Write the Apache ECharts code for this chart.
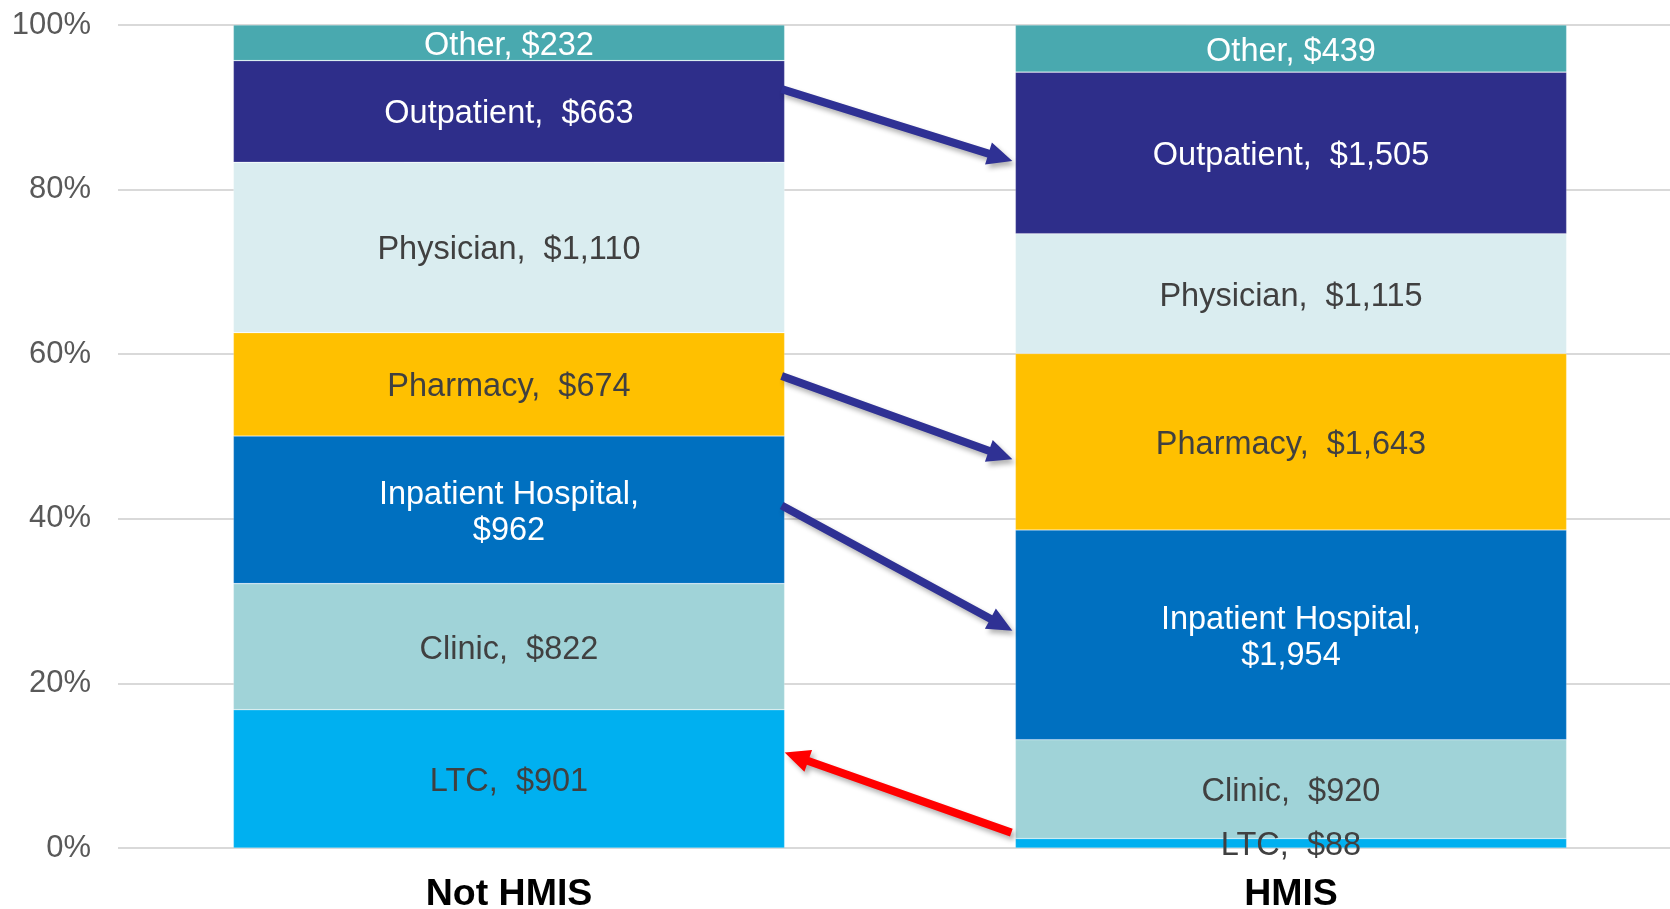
<!DOCTYPE html>
<html>
<head>
<meta charset="utf-8">
<script src="https://cdn.jsdelivr.net/npm/echarts@6/dist/echarts.min.js"></script>
<style>
html,body{margin:0;padding:0;background:#fff;}
#chart{width:1670px;height:909px;}
</style>
</head>
<body>
<div id="chart"></div>
<script>
// ---- data ----
const categories = ['Not HMIS', 'HMIS'];
const ltc = [901, 88];
const clinic = [822, 920];
const inpatient = [962, 1954];
const pharmacy = [674, 1643];
const physician = [1110, 1115];
const outpatient = [663, 1505];
const other = [232, 439];
const yTickMin = 0, yTickMax = 100, yTickStep = 20;

// segments, bottom to top
const segments = [
  {name: 'LTC', values: ltc, color: '#00B0F0', text: '#404040', sep: ',  $'},
  {name: 'Clinic', values: clinic, color: '#A0D3D8', text: '#404040', sep: ',  $'},
  {name: 'Inpatient Hospital', values: inpatient, color: '#0070C0', text: '#FFFFFF', sep: ',\n$'},
  {name: 'Pharmacy', values: pharmacy, color: '#FFC000', text: '#404040', sep: ',  $'},
  {name: 'Physician', values: physician, color: '#DAEDF0', text: '#404040', sep: ',  $'},
  {name: 'Outpatient', values: outpatient, color: '#2E2E8A', text: '#FFFFFF', sep: ',  $'},
  {name: 'Other', values: other, color: '#49A9AF', text: '#FFFFFF', sep: ', $'}
];

// arrows: from segment in one category to segment in another (frac = position inside segment, 0 bottom .. 1 top)
const arrows = [
  {fromCat: 0, fromSeg: 'Outpatient', fromFrac: 0.72, toCat: 1, toSeg: 'Outpatient', toFrac: 0.45, color: '#2F3194', tailGap: -3, tipGap: -3},
  {fromCat: 0, fromSeg: 'Pharmacy', fromFrac: 0.58, toCat: 1, toSeg: 'Pharmacy', toFrac: 0.40, color: '#2F3194', tailGap: -3, tipGap: -3},
  {fromCat: 0, fromSeg: 'Inpatient Hospital', fromFrac: 0.53, toCat: 1, toSeg: 'Inpatient Hospital', toFrac: 0.52, color: '#2F3194', tailGap: -3, tipGap: -3},
  {fromCat: 1, fromSeg: 'Clinic', fromFrac: 0.06, toCat: 0, toSeg: 'LTC', toFrac: 0.69, color: '#FF0000', tailGap: 4, tipGap: 0}
];

const totals = categories.map((c, i) => segments.reduce((s, seg) => s + seg.values[i], 0));
const fmt = v => v.toLocaleString('en-US');

const BAR_RATIO = 0.705;

const chart = echarts.init(document.getElementById('chart'), null, {renderer: 'canvas'});

const series = segments.map(seg => ({
  name: seg.name,
  type: 'bar',
  stack: 'total',
  barWidth: (BAR_RATIO * 100) + '%',
  itemStyle: {color: seg.color, borderColor: 'rgba(255,255,255,0.35)', borderWidth: 0.6},
  label: {
    show: true,
    position: 'inside',
    offset: [0, 3],
    color: seg.text,
    fontFamily: 'Liberation Sans, Arial, sans-serif',
    fontSize: 32.5,
    lineHeight: 36,
    formatter: p => seg.name + seg.sep + fmt(p.data.raw)
  },
  emphasis: {disabled: true},
  data: seg.values.map((v, i) => ({value: v / totals[i] * 100, raw: v}))
}));

chart.setOption({
  animation: false,
  grid: {left: 118, right: -12, top: 25, bottom: 61, containLabel: false, outerBoundsMode: 'none'},
  xAxis: {
    type: 'category',
    data: categories,
    axisLine: {show: false},
    axisTick: {show: false},
    axisLabel: {
      color: '#000000',
      fontWeight: 'bold',
      fontSize: 37.5,
      fontFamily: 'Liberation Sans, Arial, sans-serif',
      margin: 28
    }
  },
  yAxis: {
    type: 'value',
    min: yTickMin,
    max: yTickMax,
    interval: yTickStep,
    axisLine: {show: false},
    axisTick: {show: false},
    splitLine: {lineStyle: {color: '#D9D9D9', width: 2}},
    axisLabel: {
      formatter: '{value}%',
      color: '#595959',
      fontSize: 31,
      fontFamily: 'Liberation Sans, Arial, sans-serif',
      margin: 27
    }
  },
  series: series
});

// ---- arrows computed from the data via the axes ----
function segY(catIdx, segName, frac) {
  let cum = 0;
  for (const seg of segments) {
    const pct = seg.values[catIdx] / totals[catIdx] * 100;
    if (seg.name === segName) {
      return chart.convertToPixel({yAxisIndex: 0}, cum + pct * frac);
    }
    cum += pct;
  }
  return null;
}
const c0 = chart.convertToPixel({xAxisIndex: 0}, 0);
const c1 = chart.convertToPixel({xAxisIndex: 0}, 1);
const band = Math.abs(c1 - c0);
const half = band * BAR_RATIO / 2;
function edgeX(catIdx, towardCat) {
  const c = chart.convertToPixel({xAxisIndex: 0}, catIdx);
  return towardCat > catIdx ? c + half : c - half;
}

const SHAFT = 8, HEAD_LEN = 25, HEAD_W = 23;
const graphics = arrows.map(a => {
  const dir = a.toCat > a.fromCat ? 1 : -1;
  const x1 = edgeX(a.fromCat, a.toCat) + dir * a.tailGap;
  const y1 = segY(a.fromCat, a.fromSeg, a.fromFrac);
  const x2 = edgeX(a.toCat, a.fromCat) + dir * a.tipGap;
  const y2 = segY(a.toCat, a.toSeg, a.toFrac);
  const dx = x2 - x1, dy = y2 - y1;
  const L = Math.sqrt(dx * dx + dy * dy);
  const ux = dx / L, uy = dy / L;
  const nx = -uy, ny = ux;
  const bx = x2 - ux * HEAD_LEN, by = y2 - uy * HEAD_LEN;
  const pts = [
    [x1 + nx * SHAFT / 2, y1 + ny * SHAFT / 2],
    [bx + nx * SHAFT / 2, by + ny * SHAFT / 2],
    [bx + nx * HEAD_W / 2, by + ny * HEAD_W / 2],
    [x2, y2],
    [bx - nx * HEAD_W / 2, by - ny * HEAD_W / 2],
    [bx - nx * SHAFT / 2, by - ny * SHAFT / 2],
    [x1 - nx * SHAFT / 2, y1 - ny * SHAFT / 2]
  ];
  return {
    type: 'polygon',
    z: 100,
    shape: {points: pts},
    style: {
      fill: a.color,
      shadowBlur: 5,
      shadowOffsetX: 3,
      shadowOffsetY: 4,
      shadowColor: 'rgba(0,0,0,0.3)'
    }
  };
});
chart.setOption({graphic: graphics});
</script>
</body>
</html>
